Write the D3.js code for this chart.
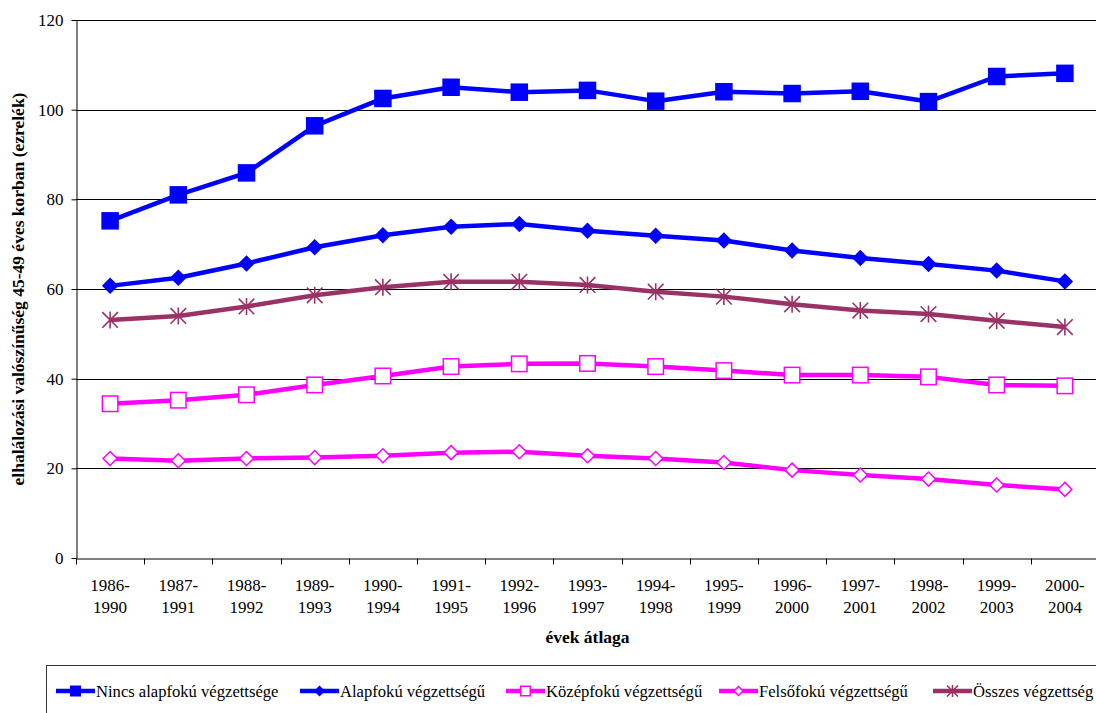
<!DOCTYPE html>
<html><head><meta charset="utf-8">
<script src="https://cdn.jsdelivr.net/npm/d3@7"></script>
<style>
html,body{margin:0;padding:0;background:#fff;overflow:hidden}
svg{display:block;font-family:"Liberation Serif","Times New Roman",serif}
</style></head>
<body>
<svg id="c" width="1096" height="713"></svg>
<script>
const categories = ["1986-1990","1987-1991","1988-1992","1989-1993","1990-1994","1991-1995","1992-1996","1993-1997","1994-1998","1995-1999","1996-2000","1997-2001","1998-2002","1999-2003","2000-2004"];
const nincs = [75.2,81.0,85.9,96.4,102.5,105.0,103.9,104.3,101.9,104.0,103.6,104.1,101.8,107.4,108.1];
const alap = [60.7,62.5,65.7,69.3,72.0,73.9,74.5,73.0,71.9,70.8,68.6,66.9,65.6,64.1,61.7];
const kozep = [34.4,35.2,36.4,38.6,40.6,42.7,43.3,43.4,42.7,41.8,40.8,40.8,40.4,38.6,38.4];
const felso = [22.2,21.7,22.2,22.4,22.8,23.5,23.7,22.8,22.2,21.3,19.6,18.5,17.6,16.3,15.3];
const osszes = [53.1,54.0,56.1,58.6,60.4,61.6,61.6,60.9,59.4,58.3,56.6,55.2,54.4,52.9,51.5];
const seriesNames = ["Nincs alapfokú végzettsége","Alapfokú végzettségű","Középfokú végzettségű","Felsőfokú végzettségű","Összes végzettség"];
const yTicks = [0,20,40,60,80,100,120];
const xTitle = "évek átlaga";
const yTitle = "elhalálozási valószínűség 45-49 éves korban (ezrelék)";

const series = [
  {name: seriesNames[0], values: nincs, color: "#0000FF", marker: "fsquare"},
  {name: seriesNames[1], values: alap, color: "#0000FF", marker: "fdiamond"},
  {name: seriesNames[2], values: kozep, color: "#FF00FF", marker: "osquare"},
  {name: seriesNames[3], values: felso, color: "#FF00FF", marker: "odiamond"},
  {name: seriesNames[4], values: osszes, color: "#993366", marker: "star"}
];

const svg = d3.select("#c");
const x = d3.scaleBand().domain(categories).range([76, 76 + 15 * 68.2]);
const y = d3.scaleLinear().domain([0, 120]).range([558, 20]);

// gridlines
svg.append("g").selectAll("line").data(yTicks.filter(d => d > 0)).join("line")
  .attr("x1", 76).attr("x2", 1100)
  .attr("y1", d => Math.round(y(d)) + 0.5).attr("y2", d => Math.round(y(d)) + 0.5)
  .attr("stroke", "#000").attr("stroke-width", 1);

// y axis
const ya = svg.append("g").attr("transform", "translate(76.5,0)")
  .call(d3.axisLeft(y).tickValues(yTicks).tickSize(5).tickPadding(8).tickSizeOuter(0));
ya.select(".domain").attr("stroke", "#000");
ya.selectAll(".tick line").attr("stroke", "#000");
ya.selectAll("text").attr("font-size", 17).attr("font-family", "Liberation Serif").attr("fill", "#000");

// x axis
const xa = svg.append("g").attr("transform", "translate(0,558.5)")
  .call(d3.axisBottom(x).tickSize(0).tickSizeOuter(0).tickFormat(""));
xa.select(".domain").attr("stroke", "#000");
xa.selectAll(".tick").remove();
const bounds = categories.map(c => x(c)).concat([x.range()[1]]);
xa.selectAll("line.t").data(bounds).join("line").attr("class", "t")
  .attr("x1", d => Math.round(d) + 0.5).attr("x2", d => Math.round(d) + 0.5)
  .attr("y1", 0).attr("y2", 6).attr("stroke", "#000");
const xl = svg.append("g").selectAll("text").data(categories).join("text")
  .attr("x", d => x(d) + x.bandwidth() / 2).attr("y", 591)
  .attr("text-anchor", "middle").attr("font-size", 17).attr("fill", "#000");
xl.append("tspan").attr("x", d => x(d) + x.bandwidth() / 2).attr("dy", 0).text(d => d.split("-")[0] + "-");
xl.append("tspan").attr("x", d => x(d) + x.bandwidth() / 2).attr("dy", 21.5).text(d => d.split("-")[1]);

// axis titles
svg.append("text").attr("x", (76 + 1099) / 2).attr("y", 643).attr("text-anchor", "middle")
  .attr("font-size", 17.5).attr("font-weight", "bold").text(xTitle);
svg.append("text").attr("transform", "translate(24,289) rotate(-90)").attr("text-anchor", "middle")
  .attr("font-size", 17.5).attr("font-weight", "bold").text(yTitle);

function drawMarker(g, type, color, s) {
  const h = s / 2;
  if (type === "fsquare") g.append("rect").attr("x", -h).attr("y", -h).attr("width", s).attr("height", s).attr("fill", color);
  else if (type === "osquare") g.append("rect").attr("x", -h + 0.75).attr("y", -h + 0.75).attr("width", s - 1.5).attr("height", s - 1.5).attr("fill", "#fff").attr("stroke", color).attr("stroke-width", 1.5);
  else if (type === "fdiamond") g.append("path").attr("d", `M0,${-h}L${h},0L0,${h}L${-h},0Z`).attr("fill", color);
  else if (type === "odiamond") g.append("path").attr("d", `M0,${-h + 1}L${h - 1},0L0,${h - 1}L${-h + 1},0Z`).attr("fill", "#fff").attr("stroke", color).attr("stroke-width", 1.5);
  else if (type === "star") {
    const d = h * 0.92;
    g.append("path").attr("d", `M0,${-h}L0,${h}M${-d},${-d}L${d},${d}M${-d},${d}L${d},${-d}`)
      .attr("stroke", color).attr("stroke-width", 1.6).attr("fill", "none");
  }
}

const cx = c => x(c) + x.bandwidth() / 2;
const line = d3.line().x((d, i) => cx(categories[i])).y(d => y(d));
const plot = svg.append("g");
series.forEach(s => {
  plot.append("path").datum(s.values).attr("d", line).attr("fill", "none")
    .attr("stroke", s.color).attr("stroke-width", 4.5).attr("stroke-linejoin", "round");
});
series.forEach(s => {
  const size = s.marker === "fsquare" ? 17.5 : s.marker === "fdiamond" ? 16.5 : s.marker === "osquare" ? 17 : s.marker === "odiamond" ? 16 : 17;
  s.values.forEach((v, i) => {
    const g = plot.append("g").attr("transform", `translate(${cx(categories[i])},${y(v)})`);
    drawMarker(g, s.marker, s.color, size);
  });
});

// legend
svg.append("rect").attr("x", 46.5).attr("y", 665.5).attr("width", 1100).attr("height", 60)
  .attr("fill", "none").attr("stroke", "#333").attr("stroke-width", 1);
const legX = [56, 300, 506, 719, 933];
series.forEach((s, i) => {
  const g = svg.append("g").attr("transform", `translate(${legX[i]},691)`);
  g.append("line").attr("x1", 0).attr("x2", 39).attr("y1", 0).attr("y2", 0)
    .attr("stroke", s.color).attr("stroke-width", 4.5);
  const m = g.append("g").attr("transform", "translate(19.5,0)");
  drawMarker(m, s.marker, s.color, s.marker === "star" ? 12 : 11);
  g.append("text").attr("x", 40).attr("y", 6).attr("font-size", 16.6).attr("fill", "#000").text(s.name);
});
</script>
</body></html>
